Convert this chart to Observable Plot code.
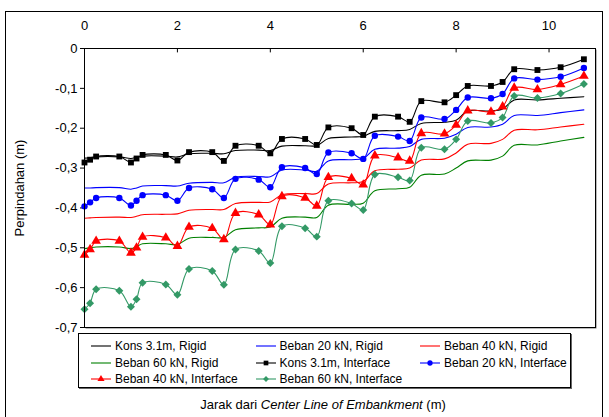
<!DOCTYPE html>
<html><head><meta charset="utf-8">
<script src="https://cdn.jsdelivr.net/npm/d3@7"></script>
<script src="https://cdn.jsdelivr.net/npm/@observablehq/plot@0.6"></script>
<style>
body{margin:0;background:#fff;font-family:"Liberation Sans",Arial,sans-serif;}
#wrap{position:relative;width:609px;height:417px;overflow:hidden;background:#fff;}
#outer{position:absolute;left:5px;top:11px;width:598px;height:430px;border:1px solid #000;box-sizing:border-box;}
#shadow{position:absolute;left:84px;top:48px;width:511px;height:279px;box-shadow:1.5px 1.5px 0 #777;}
#chart{position:absolute;left:0;top:0;}
#legend{position:absolute;left:78px;top:333px;width:493px;height:55px;border:1px solid #000;box-sizing:border-box;box-shadow:1px 1px 0 #666;background:#fff;}
.li{position:absolute;height:16px;line-height:16px;font-size:12px;white-space:nowrap;color:#000;display:flex;align-items:center;}
.li svg{margin-right:3px;}
#xtitle{position:absolute;left:0;width:646px;top:397px;text-align:center;font-size:13px;color:#000;}
</style></head><body><div id="wrap"><div id="outer"></div><div id="shadow"></div><div id="chart"></div><div id="legend"></div><div id="xtitle">Jarak dari <i>Center Line of Embankment</i> (m)</div></div>
<script>
// distance from centre line (m)
const distance = [0, 0.12, 0.25, 0.75, 1.0, 1.12, 1.25, 1.75, 2.0, 2.25, 2.75, 3.0, 3.25, 3.75, 4.0, 4.25, 4.75, 5.0, 5.25, 5.75, 6.0, 6.25, 6.75, 7.0, 7.25, 7.75, 8.0, 8.25, 8.75, 9.0, 9.25, 9.75, 10.25, 10.75];

const konsRigid = [-0.275, -0.274, -0.272, -0.272, -0.276, -0.273, -0.270, -0.270, -0.272, -0.264, -0.263, -0.264, -0.256, -0.255, -0.256, -0.245, -0.244, -0.244, -0.226, -0.222, -0.220, -0.208, -0.206, -0.203, -0.188, -0.185, -0.180, -0.157, -0.157, -0.152, -0.129, -0.129, -0.125, -0.121];
const b20Rigid = [-0.350, -0.350, -0.349, -0.349, -0.353, -0.350, -0.345, -0.344, -0.345, -0.338, -0.336, -0.337, -0.323, -0.321, -0.322, -0.305, -0.305, -0.308, -0.282, -0.279, -0.276, -0.253, -0.250, -0.246, -0.228, -0.225, -0.215, -0.198, -0.197, -0.190, -0.168, -0.168, -0.161, -0.154];
const b40Rigid = [-0.426, -0.425, -0.424, -0.423, -0.424, -0.421, -0.417, -0.416, -0.415, -0.406, -0.404, -0.404, -0.389, -0.386, -0.385, -0.367, -0.364, -0.364, -0.340, -0.337, -0.334, -0.307, -0.303, -0.300, -0.280, -0.277, -0.262, -0.240, -0.238, -0.228, -0.205, -0.204, -0.197, -0.190];
const b60Rigid = [-0.502, -0.500, -0.498, -0.498, -0.502, -0.497, -0.490, -0.490, -0.492, -0.476, -0.474, -0.474, -0.455, -0.450, -0.448, -0.426, -0.423, -0.424, -0.393, -0.391, -0.388, -0.357, -0.352, -0.348, -0.318, -0.315, -0.300, -0.282, -0.280, -0.270, -0.243, -0.242, -0.232, -0.223];

const konsInterface = [-0.286, -0.279, -0.271, -0.271, -0.286, -0.276, -0.267, -0.267, -0.281, -0.260, -0.260, -0.282, -0.244, -0.244, -0.263, -0.227, -0.227, -0.242, -0.198, -0.200, -0.217, -0.171, -0.171, -0.184, -0.132, -0.135, -0.117, -0.094, -0.094, -0.084, -0.052, -0.054, -0.047, -0.027];
const b20Interface = [-0.396, -0.386, -0.375, -0.375, -0.394, -0.382, -0.368, -0.368, -0.382, -0.350, -0.353, -0.375, -0.327, -0.329, -0.348, -0.298, -0.300, -0.315, -0.261, -0.263, -0.277, -0.219, -0.221, -0.232, -0.173, -0.177, -0.154, -0.123, -0.125, -0.114, -0.075, -0.078, -0.071, -0.049];
const b40Interface = [-0.518, -0.504, -0.483, -0.483, -0.513, -0.500, -0.473, -0.475, -0.496, -0.448, -0.451, -0.479, -0.413, -0.417, -0.442, -0.371, -0.375, -0.395, -0.323, -0.326, -0.342, -0.269, -0.274, -0.282, -0.213, -0.214, -0.192, -0.156, -0.159, -0.146, -0.099, -0.103, -0.090, -0.069];
const b60Interface = [-0.654, -0.639, -0.604, -0.608, -0.648, -0.629, -0.588, -0.592, -0.618, -0.553, -0.558, -0.593, -0.504, -0.508, -0.538, -0.446, -0.451, -0.472, -0.382, -0.389, -0.405, -0.316, -0.323, -0.331, -0.249, -0.253, -0.228, -0.182, -0.187, -0.173, -0.119, -0.124, -0.113, -0.089];

const seriesNames = ["Kons 3.1m, Rigid", "Beban 20 kN, Rigid", "Beban 40 kN, Rigid", "Beban 60 kN, Rigid", "Kons 3.1m, Interface", "Beban 20 kN, Interface", "Beban 40 kN, Interface", "Beban 60 kN, Interface"];
const seriesValues = [konsRigid, b20Rigid, b40Rigid, b60Rigid, konsInterface, b20Interface, b40Interface, b60Interface];
const seriesColors = ["#000000", "#0000ff", "#ff0000", "#008000", "#000000", "#0000ff", "#ff0000", "#339966"];
const seriesSymbols = [null, null, null, null, "square", "circle", "triangle", "diamond2"];

const xTicks = [0, 2, 4, 6, 8, 10];
const yTicks = [0, -0.1, -0.2, -0.3, -0.4, -0.5, -0.6, -0.7];
const yTickLabels = ["0", "-0,1", "-0,2", "-0,3", "-0,4", "-0,5", "-0,6", "-0,7"];

const rows = [];
seriesNames.forEach((name, i) => {
  distance.forEach((d, j) => rows.push({series: name, idx: i, x: d, y: seriesValues[i][j]}));
});

const marks = [];
seriesNames.forEach((name, i) => {
  const data = rows.filter(r => r.idx === i);
  marks.push(Plot.line(data, {x: "x", y: "y", stroke: seriesColors[i], strokeWidth: 1.1, curve: "catmull-rom"}));
});
seriesNames.forEach((name, i) => {
  if (!seriesSymbols[i]) return;
  const data = rows.filter(r => r.idx === i);
  marks.push(Plot.dot(data, {x: "x", y: "y", symbol: () => seriesSymbols[i], fill: seriesColors[i], stroke: "none", r: seriesSymbols[i] === "circle" ? 3.2 : (seriesSymbols[i] === "square" ? 3.3 : 3.6)}));
});

const chart = Plot.plot({
  width: 609, height: 417,
  marginLeft: 84, marginRight: 14, marginTop: 48, marginBottom: 90,
  style: {fontFamily: "'Liberation Sans', Arial, sans-serif", fontSize: "13px", color: "#000", background: "transparent", overflow: "visible"},
  x: {domain: [0, 11]},
  y: {domain: [-0.7, 0]},
  symbol: {type: "identity"},
  marks: [
    Plot.axisX({anchor: "top", ticks: xTicks, tickSize: 0, tickPadding: 19, tickFormat: d => String(d), label: null}),
    Plot.ruleX(xTicks.filter(d => d > 0), {y1: 0, y2: -0.011, stroke: "#000"}),
    Plot.axisY({ticks: yTicks, tickSize: 4, tickPadding: 3, tickFormat: (d, i) => yTickLabels[yTicks.indexOf(d)] ?? yTickLabels[i], label: "Perpindahan (m)", labelAnchor: "center", labelOffset: 70, labelArrow: "none"}),
    ...marks,
    Plot.frame({stroke: "#000", strokeWidth: 1})
  ]
});
document.getElementById("chart").appendChild(chart);

// legend
const legend = document.getElementById("legend");
seriesNames.forEach((name, i) => {
  const col = i % 3, row = Math.floor(i / 3);
  const item = document.createElement("div");
  item.className = "li";
  item.style.left = (11 + col * 164.5) + "px";
  item.style.top = (4 + row * 16.5) + "px";
  const ns = "http://www.w3.org/2000/svg";
  const svg = document.createElementNS(ns, "svg");
  svg.setAttribute("width", 22); svg.setAttribute("height", 10);
  const ln = document.createElementNS(ns, "line");
  ln.setAttribute("x1", 1); ln.setAttribute("x2", 21); ln.setAttribute("y1", 5); ln.setAttribute("y2", 5);
  ln.setAttribute("stroke", seriesColors[i]); ln.setAttribute("stroke-width", 1.1);
  svg.appendChild(ln);
  if (seriesSymbols[i]) {
    const symMap = {square: d3.symbolSquare, circle: d3.symbolCircle, triangle: d3.symbolTriangle, diamond2: d3.symbolDiamond2};
    const p = document.createElementNS(ns, "path");
    p.setAttribute("d", d3.symbol(symMap[seriesSymbols[i]], 22)());
    p.setAttribute("transform", "translate(11,5)");
    p.setAttribute("fill", seriesColors[i]);
    svg.appendChild(p);
  }
  item.appendChild(svg);
  const t = document.createElement("span");
  t.textContent = name;
  item.appendChild(t);
  legend.appendChild(item);
});
</script></body></html>
